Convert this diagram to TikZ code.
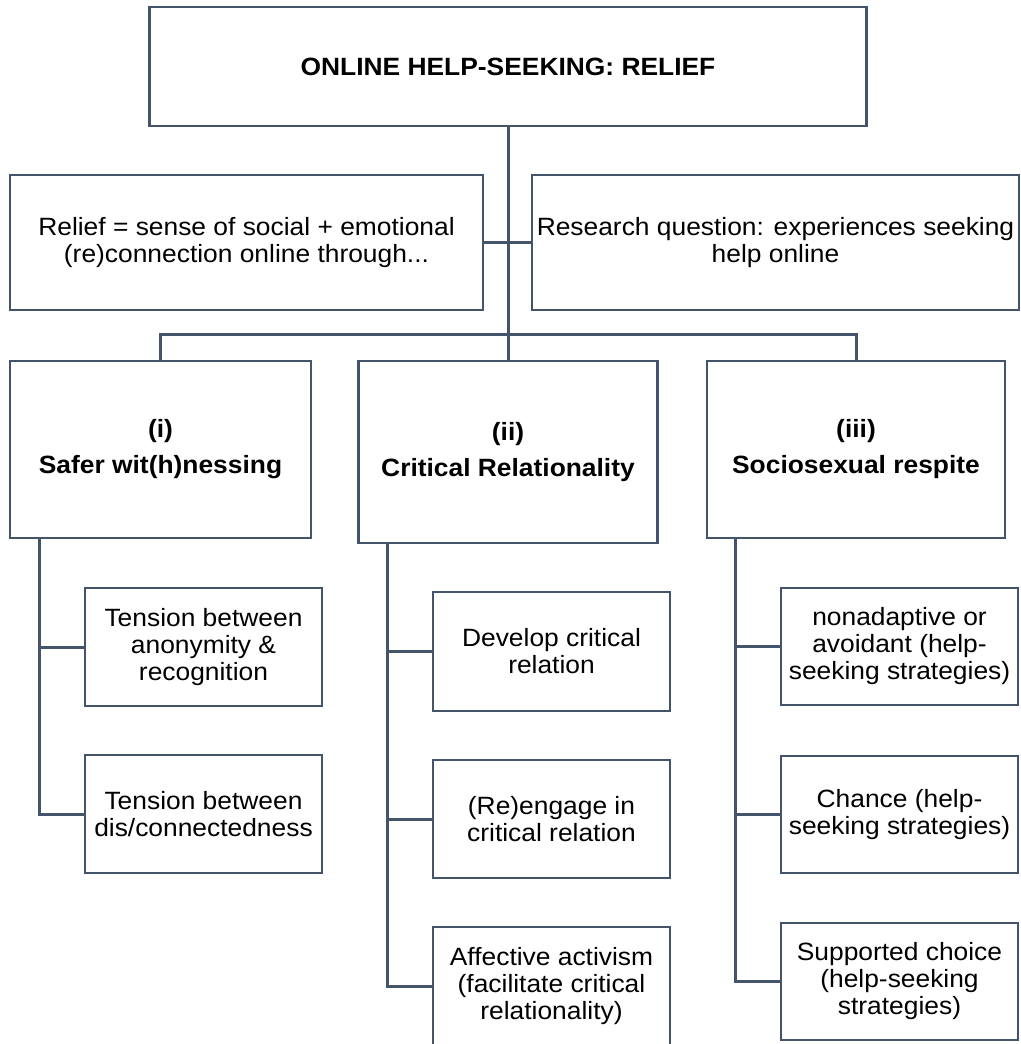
\documentclass[tikz,border=0pt]{standalone}
\usepackage{fontspec}
\setmainfont{Liberation Sans}[FakeStretch=1.055]
\definecolor{ln}{HTML}{44546A}
\begin{document}
\begin{tikzpicture}[x=1pt,y=-1pt,
  box/.style={draw=ln, line width=2.3pt, fill=white, inner sep=2pt, align=center,
              font=\fontsize{25}{27}\selectfont},
  catbox/.style={box, font=\bfseries\fontsize{25}{36}\selectfont},
  con/.style={draw=ln, line width=3pt}]
\useasboundingbox (0,0) rectangle (1020,1044);

% top
\node[box, font=\bfseries\fontsize{25}{27}\selectfont, minimum width=717pt, minimum height=119pt] (top) at (508,66.5) {ONLINE HELP-SEEKING: RELIEF};

% second row
\node[box, minimum width=473pt, minimum height=135pt] (relief) at (246.5,242.5) {Relief = sense of social + emotional\\(re)connection online through...};
\node[box, minimum width=487pt, minimum height=135pt] (research) at (775.5,242.5) {Research question: experiences seeking\\help online};

% categories
\node[catbox, minimum width=301pt, minimum height=177pt] (cat1) at (160.5,449.5) {(i)\\Safer wit(h)nessing};
\node[catbox, minimum width=299pt, minimum height=182pt] (cat2) at (508,452) {(ii)\\Critical Relationality};
\node[catbox, minimum width=298pt, minimum height=177pt] (cat3) at (856,449.5) {(iii)\\Sociosexual respite};

% sub-themes (i)
\node[box, minimum width=237pt, minimum height=118pt] (s1a) at (203.5,647) {Tension between\\anonymity \&\\recognition};
\node[box, minimum width=237pt, minimum height=118pt] (s1b) at (203.5,814) {Tension between\\dis/connectedness};

% sub-themes (ii)
\node[box, minimum width=237pt, minimum height=119pt] (s2a) at (551.5,651.5) {Develop critical\\relation};
\node[box, minimum width=237pt, minimum height=118pt] (s2b) at (551.5,819) {(Re)engage in\\critical relation};
\node[box, minimum width=237pt, minimum height=118pt] (s2c) at (551.5,986) {Affective activism\\(facilitate critical\\relationality)};

% sub-themes (iii)
\node[box, minimum width=237pt, minimum height=117pt] (s3a) at (899.5,646.5) {nonadaptive or\\avoidant (help-\\seeking strategies)};
\node[box, minimum width=237pt, minimum height=117pt] (s3b) at (899.5,814.5) {Chance (help-\\seeking strategies)};
\node[box, minimum width=237pt, minimum height=117pt] (s3c) at (899.5,981.5) {Supported choice\\(help-seeking\\strategies)};

% connectors
\draw[con] (top.south) -- (cat2.north);
\draw[con] (relief.east) -- (research.west);
\draw[con] (cat1.north) -- ++(0,-25) -| (cat3.north);

\coordinate (t1) at ([xshift=31pt]cat1.south west);
\coordinate (t2) at ([xshift=30.5pt]cat2.south west);
\coordinate (t3) at ([xshift=30pt]cat3.south west);
\draw[con] (t1) |- (s1a.west);
\draw[con] (t1) |- (s1b.west);
\draw[con] (t2) |- (s2a.west);
\draw[con] (t2) |- (s2b.west);
\draw[con] (t2) |- (s2c.west);
\draw[con] (t3) |- (s3a.west);
\draw[con] (t3) |- (s3b.west);
\draw[con] (t3) |- (s3c.west);
\end{tikzpicture}
\end{document}
